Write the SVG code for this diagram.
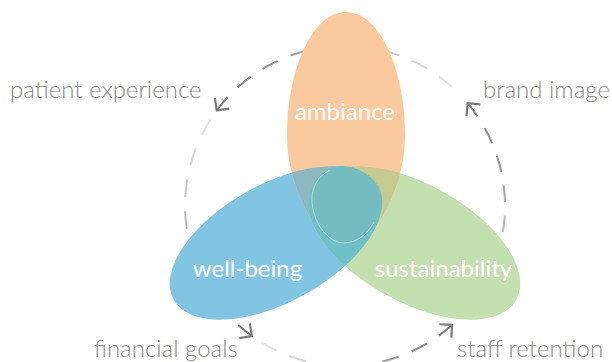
<svg xmlns="http://www.w3.org/2000/svg" width="612" height="362" viewBox="0 0 612 362">
<style>
.arc{fill:none;stroke-width:2;stroke-dasharray:17 14;marker-end:url(#chev)}
.lbl{font-family:Lato,"Open Sans","Liberation Sans",sans-serif;font-weight:300;font-size:24px;fill:#888888}
.in{font-family:Lato,"Open Sans","Liberation Sans",sans-serif;font-weight:400;font-size:24px;fill:#ffffff;text-anchor:middle}
</style>
<defs>
<marker id="chev" markerUnits="userSpaceOnUse" orient="auto" refX="0" refY="0" markerWidth="20" markerHeight="20" overflow="visible">
<path d="M -9 -9 L 0 0 L -9 9" fill="none" stroke="#7b7b7b" stroke-width="2.2" stroke-linejoin="miter"/>
</marker>
<linearGradient id="g1" gradientUnits="userSpaceOnUse" x1="452.1" y1="87.1" x2="216.7" y2="110.4"><stop offset="0" stop-color="#e8e8e8"/><stop offset="1" stop-color="#787878"/></linearGradient>
<linearGradient id="g2" gradientUnits="userSpaceOnUse" x1="210.4" y1="119.6" x2="251.9" y2="336.1"><stop offset="0" stop-color="#e8e8e8"/><stop offset="1" stop-color="#787878"/></linearGradient>
<linearGradient id="g3" gradientUnits="userSpaceOnUse" x1="261.2" y1="342.3" x2="452.1" y2="324.9"><stop offset="0" stop-color="#e8e8e8"/><stop offset="1" stop-color="#787878"/></linearGradient>
<linearGradient id="g4" gradientUnits="userSpaceOnUse" x1="463.9" y1="313.1" x2="467.6" y2="103.2"><stop offset="0" stop-color="#e8e8e8"/><stop offset="1" stop-color="#787878"/></linearGradient>
<path id="egg" d="M 346 12 C 380 12 405 70 405 135 C 405 190 375 235 346 262 C 317 235 287 190 287 135 C 287 70 312 12 346 12 Z"/>
<ellipse id="eblue" cx="276" cy="243" rx="117" ry="59" transform="rotate(-29 276 243)"/>
<ellipse id="egreen" cx="414" cy="243" rx="117" ry="59" transform="rotate(29 414 243)"/>
<clipPath id="cpOrange"><use href="#egg"/></clipPath>
<clipPath id="cpBlue"><use href="#eblue"/></clipPath>
</defs>
<rect width="612" height="362" fill="#ffffff"/>
<g id="connectors">
<path class="arc" stroke="url(#g1)" pathLength="265" d="M 452.1 87.1 A 160 160 0 0 0 216.7 110.4"/>
<path class="arc" stroke="url(#g2)" pathLength="234" d="M 210.4 119.6 A 160 160 0 0 0 251.9 336.1"/>
<path class="arc" stroke="url(#g3)" pathLength="203" d="M 261.2 342.3 A 160 160 0 0 0 452.1 324.9"/>
<path class="arc" stroke="url(#g4)" pathLength="234" d="M 463.9 313.1 A 160 160 0 0 0 467.6 103.2"/>
</g>
<g id="node-wellbeing">
<use href="#eblue" fill="#82c5e3"/>
</g>
<g id="node-sustainability">
<use href="#egreen" fill="#c5e0b0"/>
</g>
<g id="node-ambiance">
<use href="#egg" fill="#fac99d"/>
</g>
<g id="overlaps">
<use href="#eblue" fill="#8db7c1" clip-path="url(#cpOrange)"/>
<use href="#egreen" fill="#c6ca8e" clip-path="url(#cpOrange)"/>
<use href="#egreen" fill="#70c0ca" clip-path="url(#cpBlue)"/>
<g id="center">
<path d="M 342 166 C 324 166 312 181 312 199 C 312 222 328 243 344 243 C 361 243 380 222 380 199 C 380 181 361 166 342 166 Z" fill="#76bbc0"/>
<path d="M 330 170 C 318 176 312 187 312 199 C 312 222 328 243 344 243 C 356 243 368 234 374 222" fill="none" stroke="#ffffff" stroke-opacity="0.55" stroke-width="0.8"/>
</g>
</g>
<g id="labels">
<text class="in" x="345" y="120">ambiance</text>
<text class="in" x="247.5" y="277">well-being</text>
<text class="in" x="443.5" y="277">sustainability</text>
<text class="lbl" x="10" y="98">patient experience</text>
<text class="lbl" x="483" y="98">brand image</text>
<text class="lbl" x="94" y="357">financial goals</text>
<text class="lbl" x="457" y="357">staff retention</text>
</g>
</svg>
